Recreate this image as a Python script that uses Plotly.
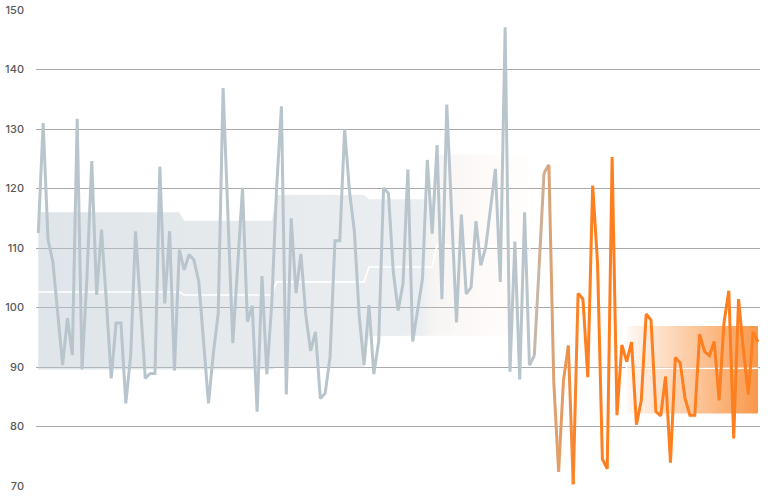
import plotly.graph_objects as go

# observed values, one per period
values = [
    112.5, 131.0, 111.4, 107.7, 99.0, 90.3, 98.2, 92.0, 131.7, 89.6,
    105.0, 124.6, 102.1, 113.1, 101.0, 88.1, 97.4, 97.4, 83.9, 92.0,
    112.8, 100.0, 88.1, 88.9, 88.9, 123.7, 100.7, 112.8, 89.4, 109.7,
    106.3, 108.9, 108.0, 104.4, 94.0, 83.9, 92.3, 99.0, 136.9, 115.0,
    94.0, 107.0, 120.1, 97.6, 100.3, 82.5, 105.3, 88.8, 100.5, 120.0,
    133.8, 85.4, 115.0, 102.4, 109.0, 98.8, 92.7, 95.9, 84.7, 85.6,
    91.7, 111.2, 111.2, 130.0, 119.5, 112.8, 98.5, 90.3, 100.4, 88.8,
    94.3, 120.1, 119.2, 106.0, 99.5, 104.0, 123.2, 94.3, 99.5, 104.8,
    124.8, 112.4, 127.3, 101.4, 134.1, 115.0, 97.5, 115.6, 102.3, 103.4,
    114.5, 107.1, 110.1, 116.7, 123.3, 104.3, 147.1, 89.2, 111.1, 87.9,
    116.0, 90.3, 91.9, 107.0, 122.6, 124.0, 87.5, 72.4, 87.8, 93.6,
    70.3, 102.4, 101.4, 88.3, 120.5, 107.5, 74.5, 72.9, 125.3, 81.9,
    93.7, 90.9, 94.2, 80.3, 84.4, 98.9, 97.9, 82.5, 81.8, 88.4,
    73.9, 91.6, 90.7, 84.7, 81.9, 81.9, 95.5, 92.6, 91.9, 94.3,
    84.4, 97.4, 102.8, 78.0, 101.4, 92.9, 85.4, 95.9, 94.2,
]

# historical bands (step segments): first index, low, median, high
seg_start = [0, 30, 49, 68, 82, 102, 121]
seg_end = [29, 48, 67, 81, 101, 120, 148]
seg_low = [89.6, 89.6, 89.9, 95.2, 95.3, None, 82.2]
seg_median = [102.6, 102.1, 104.3, 106.8, 110.4, 96.2, 89.8]
seg_high = [116.0, 114.6, 118.9, 118.2, 125.7, None, 96.9]

y_ticks = [70, 80, 90, 100, 110, 120, 130, 140, 150]

GRAY = (185, 197, 204)
ORANGE = (254, 127, 31)
# colour of the line through the hand-over from history to forecast
line_stops = [(101, GRAY), (104, (212, 169, 133)), (108, (229, 154, 94)), (111, ORANGE)]

x = list(range(len(values)))


def expand(arr, first, last):
    xs, ys = [], []
    for s, e, v in zip(seg_start, seg_end, arr):
        if v is None or s < first or e > last:
            continue
        for i in range(s, e + 1):
            xs.append(i)
            ys.append(v)
    return xs, ys


def rgb(c):
    return 'rgb(%d,%d,%d)' % c


def line_color(i):
    for (a, ca), (b, cb) in zip(line_stops[:-1], line_stops[1:]):
        if a <= i <= b:
            t = (i - a) / (b - a)
            return tuple(round(ca[k] + (cb[k] - ca[k]) * t) for k in range(3))
    return GRAY if i < line_stops[0][0] else ORANGE


fig = go.Figure()

# grey history band
bx, blo = expand(seg_low, 0, 101)
_, bhi = expand(seg_high, 0, 101)
fig.add_trace(go.Scatter(x=bx, y=blo, mode='lines', line=dict(width=0),
                         hoverinfo='skip', showlegend=False))
fig.add_trace(go.Scatter(
    x=bx, y=bhi, mode='lines', line=dict(width=0), fill='tonexty',
    fillgradient=dict(type='horizontal', start=0, stop=101, colorscale=[
        [0.0, 'rgba(185,198,206,0.46)'],
        [0.78, 'rgba(190,200,207,0.30)'],
        [0.81, 'rgba(215,208,202,0.20)'],
        [1.0, 'rgba(255,215,190,0.03)'],
    ]),
    hoverinfo='skip', showlegend=False))

# orange forecast band
ox, olo = expand(seg_low, 121, 148)
_, ohi = expand(seg_high, 121, 148)
fig.add_trace(go.Scatter(x=ox, y=olo, mode='lines', line=dict(width=0),
                         hoverinfo='skip', showlegend=False))
fig.add_trace(go.Scatter(
    x=ox, y=ohi, mode='lines', line=dict(width=0), fill='tonexty',
    fillgradient=dict(type='horizontal', start=121, stop=148, colorscale=[
        [0.0, 'rgba(250,127,30,0.05)'],
        [1.0, 'rgba(247,127,30,0.80)'],
    ]),
    hoverinfo='skip', showlegend=False))

# medians
mx, my = expand(seg_median, 0, 148)
fig.add_trace(go.Scatter(x=mx, y=my, mode='lines',
                         line=dict(color='white', width=1.6),
                         hoverinfo='skip', showlegend=False))

# the series itself: grey, hand-over segments, orange
a, b = line_stops[0][0], line_stops[-1][0]
fig.add_trace(go.Scatter(x=x[:a + 1], y=values[:a + 1], mode='lines',
                         line=dict(color=rgb(GRAY), width=3), showlegend=False))
for i in range(a, b):
    fig.add_trace(go.Scatter(x=x[i:i + 2], y=values[i:i + 2], mode='lines',
                             line=dict(color=rgb(line_color(i + 0.5)), width=3),
                             showlegend=False))
fig.add_trace(go.Scatter(x=x[b:], y=values[b:], mode='lines',
                         line=dict(color=rgb(ORANGE), width=3), showlegend=False))

fig.update_layout(
    width=768,
    height=497,
    margin=dict(l=36, r=8, t=10, b=11),
    paper_bgcolor='white',
    plot_bgcolor='white',
    font=dict(family='Inter, sans-serif', size=11, color='#5a5a5a'),
    showlegend=False,
)
fig.update_xaxes(
    range=[-0.47, 148.41],
    showgrid=False, zeroline=False, showticklabels=False, showline=False,
    automargin=False,
)
fig.update_yaxes(
    range=[70, 150],
    tickvals=y_ticks,
    tickfont=dict(family='Inter, sans-serif', size=11, color='#5a5a5a', weight=500),
    showgrid=True, gridcolor='#aaaaaa', gridwidth=1,
    zeroline=False, showline=False,
    ticklabelstandoff=11,
    automargin=False,
)

# page body has a default 8px margin; drop it so the chart sits at 0,0
fig.write_html("out.html", config={'displayModeBar': False},
               post_script="document.body.style.margin='0';")
